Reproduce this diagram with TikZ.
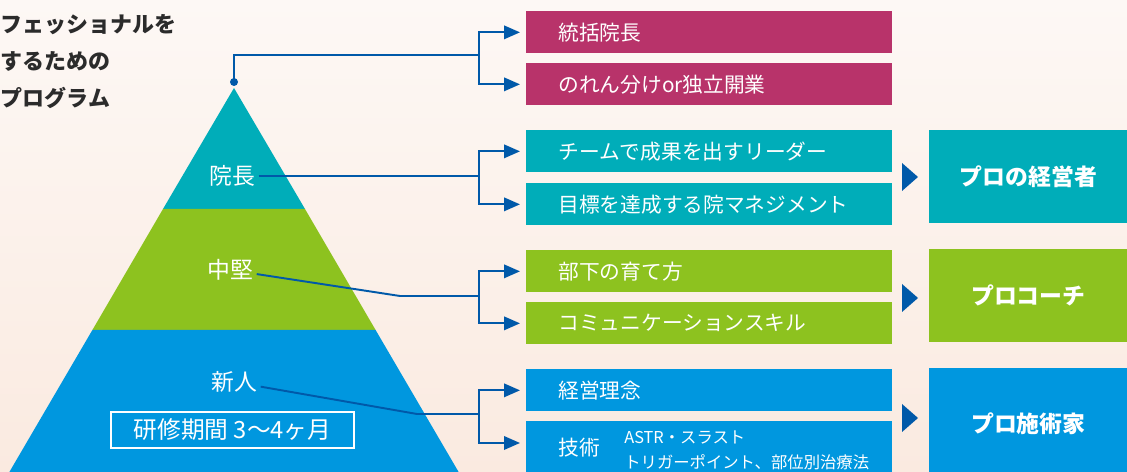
\documentclass[tikz,border=0pt]{standalone}
\usepackage{fontspec}
\setmainfont{Noto Sans CJK JP}
\usetikzlibrary{arrows.meta}

\definecolor{lvRose}{HTML}{B8336A}
\definecolor{lvTop}{HTML}{00ADB9}
\definecolor{lvMid}{HTML}{8DC21F}
\definecolor{lvNew}{HTML}{0097DF}
\definecolor{lvLink}{HTML}{0059A9}
\definecolor{inkDark}{HTML}{2B2B2B}
\definecolor{bgTop}{HTML}{FDF8F5}
\definecolor{bgBot}{HTML}{FAEAE0}

\tikzset{
  item/.style={anchor=north west, minimum width=7.32cm, minimum height=0.84cm,
    text width=6.04cm, inner xsep=0.64cm, align=left, text=white,
    font=\fontsize{11.8}{14}\selectfont},
  goal/.style={anchor=north west, minimum width=3.96cm, minimum height=1.86cm,
    text=white, font=\bfseries\fontsize{13}{16}\selectfont},
  rank/.style={text=white, inner sep=2pt, font=\fontsize{13}{16}\selectfont},
  head/.style={anchor=west, inner sep=0pt, text=inkDark,
    font=\bfseries\fontsize{12.5}{15}\selectfont},
  link/.style={draw=lvLink, line width=1.1pt},
  tolink/.style={link, -{Triangle[length=0.32cm,width=0.27cm]}, shorten >=0.12cm}
}

\begin{document}
\begin{tikzpicture}[x=0.02cm, y=-0.02cm]
\path[use as bounding box, clip] (0,0) rectangle (1127,472);
\shade[top color=bgTop, bottom color=bgBot] (0,0) rectangle (1127,472);

\node[head] (h1) at (0.5,25) {フェッショナルを};
\node[head] (h2) at (0.5,61) {するための};
\node[head] (h3) at (0.5,98) {プログラム};

\fill[lvTop] (234,88) -- (305,209) -- (163,209) -- cycle;
\fill[lvMid] (163,209) -- (305,209) -- (375.6,330) -- (92.4,330) -- cycle;
\fill[lvNew] (92.4,330) -- (375.6,330) -- (463.3,480) -- (4.7,480) -- cycle;

\node[rank] (r1) at (232,176) {院長};
\node[rank] (r2) at (230,270) {中堅};
\node[rank] (r3) at (234,382) {新人};
\node[rank, draw=white, line width=0.7pt, minimum width=4.86cm, minimum height=0.72cm,
  font=\fontsize{13.5}{16}\selectfont] (span) at (232.5,430) {研修期間 3〜4ヶ月};

\node[item, fill=lvRose] (m1) at (526,11) {統括院長};
\node[item, fill=lvRose] (m2) at (526,63) {のれん分けor独立開業};
\node[item, fill=lvTop] (t1) at (526,130) {チームで成果を出すリーダー};
\node[item, fill=lvTop] (t2) at (526,183) {目標を達成する院マネジメント};
\node[item, fill=lvMid] (g1) at (526,250) {部下の育て方};
\node[item, fill=lvMid] (g2) at (526,302) {コミュニケーションスキル};
\node[item, fill=lvNew] (b1) at (526,369) {経営理念};
\node[item, fill=lvNew, minimum height=1.04cm] (b2) at (526,421) {技術};
\node[anchor=west, align=left, inner sep=0pt, text=white,
  font=\fontsize{9.3}{14.2}\selectfont] (b2note) at (624,450)
  {ASTR・スラスト\\トリガーポイント、部位別治療法};

\node[goal, fill=lvTop] (p1) at (929,130) {プロの経営者};
\node[goal, fill=lvMid] (p2) at (929,249) {プロコーチ};
\node[goal, fill=lvNew, minimum height=2.2cm] (p3) at (929,368) {プロ施術家};

\foreach \yy in {177,298,418}
  \fill[lvLink] (902,\yy-14) -- (918,\yy) -- (902,\yy+14) -- cycle;

\coordinate (apex) at (234,82);
\coordinate (jA) at (479,55);
\coordinate (jB) at (479,176);
\coordinate (kC) at (400,296);
\coordinate (jC) at (479,296);
\coordinate (kD) at (417,414);
\coordinate (jD) at (479,414);

\fill[lvLink] (apex) circle (0.08cm);
\draw[link] (apex) |- (jA);
\draw[tolink] (jA) |- (m1.west);
\draw[tolink] (jA) |- (m2.west);

\draw[link] (r1) -- (jB);
\draw[tolink] (jB) |- (t1.west);
\draw[tolink] (jB) |- (t2.west);

\draw[link] (r2) -- (kC) -- (jC);
\draw[tolink] (jC) |- (g1.west);
\draw[tolink] (jC) |- (g2.west);

\draw[link] (r3) -- (kD) -- (jD);
\draw[tolink] (jD) |- (b1.west);
\draw[tolink] (jD) |- ([yshift=-0.44cm]b2.north west);
\end{tikzpicture}
\end{document}
